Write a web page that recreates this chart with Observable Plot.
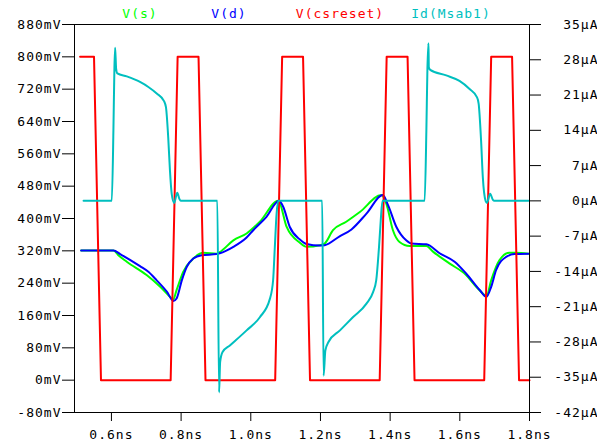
<!DOCTYPE html>
<html><head><meta charset="utf-8">
<script src="https://cdn.jsdelivr.net/npm/d3@7"></script>
<script src="https://cdn.jsdelivr.net/npm/@observablehq/plot@0.6"></script>
<style>
body{margin:0;background:#fff;}
#wrap{position:relative;width:597px;height:444px;}
#legend{position:absolute;top:6px;left:0;width:597px;height:18px;font:13px "DejaVu Sans Mono",monospace;letter-spacing:1px;}
#legend span{position:absolute;top:0;transform:translateX(-50%);white-space:nowrap;}
</style></head><body><div id="wrap"><div id="legend"></div><div id="chart"></div></div>
<script>
// ---- data (time in ns, voltages in mV, current in µA) ----
const tCsreset = [0.51,0.55,0.57,0.77,0.79,0.85,0.87,1.07,1.09,1.15,1.17,1.37,1.39,1.45,1.47,1.67,1.69,1.75,1.77,1.80];
const vCsreset = [800,800,0,0,800,800,0,0,800,800,0,0,800,800,0,0,800,800,0,0];

const tS = [0.513,0.606,0.620,0.644,0.701,0.740,0.773,0.777,0.787,0.806,0.835,0.864,0.902,0.911,0.950,0.988,1.026,1.079,1.103,1.141,1.160,1.198,1.212,1.236,1.274,1.313,1.375,1.389,1.408,1.427,1.456,1.504,1.523,1.570,1.618,1.647,1.671,1.676,1.690,1.714,1.742,1.761,1.797];
const vS = [321,321,309,293,260,231,202,199,223,268,301,315,313,317,346,363,392,444,379,340,330,334,338,371,392,416,458,437,371,342,332,332,318,289,260,231,210,206,247,297,315,315,313];

const tD = [0.513,0.606,0.625,0.682,0.706,0.730,0.759,0.778,0.787,0.802,0.816,0.835,0.859,0.902,0.911,0.950,0.988,1.007,1.045,1.081,1.093,1.112,1.141,1.160,1.198,1.212,1.255,1.289,1.332,1.379,1.394,1.418,1.446,1.461,1.504,1.542,1.585,1.618,1.657,1.676,1.690,1.704,1.733,1.757,1.797];
const vD = [321,321,312,282,268,247,219,196,202,247,280,301,309,312,314,330,353,371,404,444,429,379,348,337,333,334,356,373,412,458,433,379,346,338,336,314,293,264,223,206,231,272,305,312,313];

const tId = [0.520,0.601,0.6057,0.6086,0.6106,0.6135,0.617,0.644,0.682,0.706,0.730,0.751,0.7565,0.763,0.768,0.773,0.780,0.789,0.795,0.799,0.904,0.909,0.912,0.919,0.940,0.988,1.026,1.055,1.064,1.069,1.074,1.079,1.205,1.209,1.214,1.223,1.256,1.293,1.332,1.351,1.360,1.368,1.373,1.378,1.499,1.504,1.507,1.510,1.511,1.515,1.561,1.599,1.628,1.649,1.654,1.661,1.666,1.674,1.678,1.687,1.695,1.699,1.797];
const iId = [0,0,14,26.5,30.4,26.2,25.3,24.7,23.6,22.6,21.3,19.8,18.6,12.6,6.0,1.4,-0.4,1.6,0.4,0,0,-38,-32,-30,-28.7,-25.7,-23.1,-19.4,-15.8,-9.2,-2.6,0,0,-34.7,-29.7,-28.0,-25.7,-23.1,-20.4,-18.1,-15.8,-9.2,-3.9,0,0,14,26.2,31.3,26.5,26.0,24.9,23.8,22.2,20.6,19.3,12.0,4.7,0,-0.4,1.4,0.2,0,0];

const xTicks = [0.6,0.8,1.0,1.2,1.4,1.6,1.8];
const mvTicks = [-80,0,80,160,240,320,400,480,560,640,720,800,880];
const uaTicks = [-42,-35,-28,-21,-14,-7,0,7,14,21,28,35];

const seriesNames = ["V(s)","V(d)","V(csreset)","Id(Msab1)"];
const seriesColors = ["#00ff00","#0000ff","#ff0000","#00bfbf"];

// ---- build ----
const mvFromUa = ua => -80 + (ua + 42) * 960 / 77;
const uaFromMv = mv => Math.round((mv + 80) * 77 / 960 - 42);
const rows = (t, v, f = d => d) => t.map((x, i) => ({t: x, v: f(v[i])}));

const legend = document.getElementById("legend");
const legendX = [140, 229, 340, 451];
seriesNames.forEach((n, i) => {
  const s = document.createElement("span");
  s.textContent = n; s.style.color = seriesColors[i]; s.style.left = legendX[i] + "px";
  legend.appendChild(s);
});

const chart = Plot.plot({
  width: 597, height: 444,
  marginLeft: 74, marginRight: 68, marginTop: 24, marginBottom: 32,
  style: {fontFamily: "'DejaVu Sans Mono', monospace", fontSize: "13px", background: "white", color: "black", letterSpacing: "1px"},
  x: {domain: [0.494, 1.8]},
  y: {domain: [-80, 880]},
  marks: [
    Plot.line(rows(tS, vS), {x: "t", y: "v", stroke: seriesColors[0], strokeWidth: 2, curve: "monotone-x"}),
    Plot.line(rows(tD, vD), {x: "t", y: "v", stroke: seriesColors[1], strokeWidth: 2, curve: "monotone-x"}),
    Plot.line(rows(tCsreset, vCsreset), {x: "t", y: "v", stroke: seriesColors[2], strokeWidth: 2}),
    Plot.line(rows(tId, iId, mvFromUa), {x: "t", y: "v", stroke: seriesColors[3], strokeWidth: 2, curve: "monotone-x"}),
    Plot.frame({stroke: "black"}),
    Plot.axisY(mvTicks, {anchor: "left", tickSize: 12, tickPadding: 1, tickFormat: d => `${d}mV`, label: null}),
    Plot.axisY(uaTicks.map(mvFromUa), {anchor: "right", tickSize: 11, tickPadding: 58, textAnchor: "end", tickFormat: d => `${uaFromMv(d)}µA`, label: null}),
    Plot.axisX(xTicks, {anchor: "bottom", tickSize: 9, tickPadding: 8, tickFormat: d => d.toFixed(1) + "ns", label: null})
  ]
});
document.getElementById("chart").appendChild(chart);
</script>
</body></html>
